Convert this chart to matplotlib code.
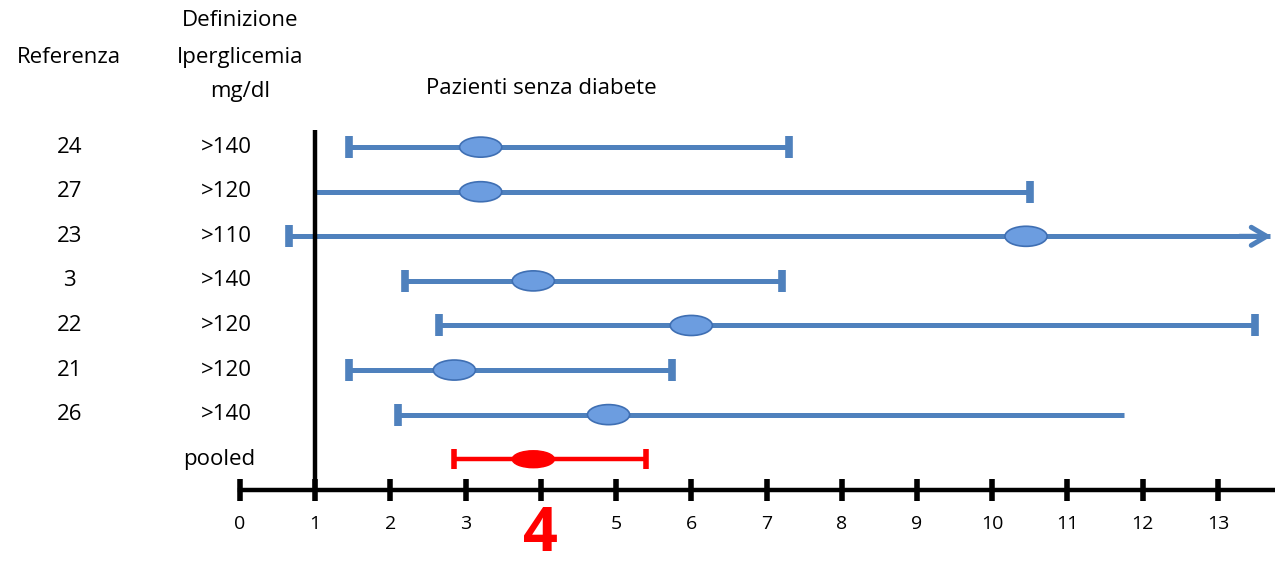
import matplotlib.pyplot as plt
from matplotlib.patches import Ellipse

# dati
referenze = ['24', '27', '23', '3', '22', '21', '26']
soglie = ['>140', '>120', '>110', '>140', '>120', '>120', '>140']
ci_low = [1.45, 1.0, 0.65, 2.2, 2.65, 1.45, 2.1]
stima = [3.2, 3.2, 10.45, 3.9, 6.0, 2.85, 4.9]
ci_high = [7.3, 10.5, 13.75, 7.2, 13.5, 5.75, 11.75]
cap_low = [True, False, True, True, True, True, True]
cap_high = [True, True, False, True, True, True, False]
freccia = [False, False, True, False, False, False, False]
pooled = [2.85, 3.9, 5.4]   # low, stima, high
xticks = list(range(14))
# il 4 e' coperto dal grande 4 rosso
xticklabels = [str(t) if t != 4 else '' for t in xticks]

blu = '#4F81BD'
plt.rcParams['font.family'] = ['Open Sans', 'DejaVu Sans']
fs = 16

fig = plt.figure(figsize=(12.75, 5.64), dpi=100)
ax = fig.add_axes([0, 0, 1, 1])
ax.set_xlim(-3.19, 13.76)
ax.set_ylim(9.35, -3.30)
for s in ['left', 'right', 'top']:
    ax.spines[s].set_visible(False)
ax.spines['bottom'].set_position(('data', 7.7))
ax.spines['bottom'].set_bounds(0, 13.76)
ax.spines['bottom'].set_linewidth(3.2)
ax.set_yticks([])
ax.set_xticks(xticks)
ax.set_xticklabels(xticklabels)
ax.tick_params(axis='x', direction='inout', length=16, width=4, labelsize=14, pad=10)

# linea verticale a 1
ax.plot([1, 1], [-0.38, 7.7], color='black', lw=3.2, solid_capstyle='butt', zorder=3)

for i in range(len(referenze)):
    y = i
    if freccia[i]:
        ax.plot([ci_low[i], ci_high[i] - 0.05], [y, y], color=blu, lw=3.6, solid_capstyle='butt', zorder=2)
        ax.annotate('', xy=(ci_high[i], y), xytext=(ci_high[i] - 0.5, y),
                    arrowprops=dict(arrowstyle='->,head_length=1.1,head_width=0.65', color=blu, lw=3.6))
    else:
        ax.plot([ci_low[i], ci_high[i]], [y, y], color=blu, lw=3.6, solid_capstyle='butt', zorder=2)
    if cap_low[i]:
        ax.plot(ci_low[i], y, marker='|', ms=16, mew=5.5, color=blu, zorder=2)
    if cap_high[i]:
        ax.plot(ci_high[i], y, marker='|', ms=16, mew=5.5, color=blu, zorder=2)
    ax.add_patch(Ellipse((stima[i], y), 0.56, 0.45, facecolor='#6C9DE0', edgecolor='#3F6FB3', lw=1.2, zorder=4))
    ax.text(-2.27, y, referenze[i], ha='center', va='center', fontsize=fs)
    ax.text(-0.18, y, soglie[i], ha='center', va='center', fontsize=fs)

# pooled
yp = len(referenze)
ax.plot([pooled[0], pooled[2]], [yp, yp], color='red', lw=3.2, solid_capstyle='butt', zorder=2)
ax.plot([pooled[0], pooled[2]], [yp, yp], ls='none', marker='|', ms=14, mew=4, color='red', zorder=2)
ax.add_patch(Ellipse((pooled[1], yp), 0.56, 0.38, facecolor='red', edgecolor='red', zorder=4))
ax.text(-0.27, yp, 'pooled', ha='center', va='center', fontsize=fs)

# intestazioni
ax.text(-2.27, -2.02, 'Referenza', ha='center', va='center', fontsize=fs)
ax.text(0.0, -2.85, 'Definizione', ha='center', va='center', fontsize=fs)
ax.text(0.0, -2.02, 'Iperglicemia', ha='center', va='center', fontsize=fs)
ax.text(0.0, -1.25, 'mg/dl', ha='center', va='center', fontsize=fs)
ax.text(4.0, -1.32, 'Pazienti senza diabete', ha='center', va='center', fontsize=fs)

# grande 4 rosso
ax.text(4.0, 8.72, '4', ha='center', va='center', fontsize=44, fontweight='bold', color='red')

fig.savefig('out.png', dpi=100)
